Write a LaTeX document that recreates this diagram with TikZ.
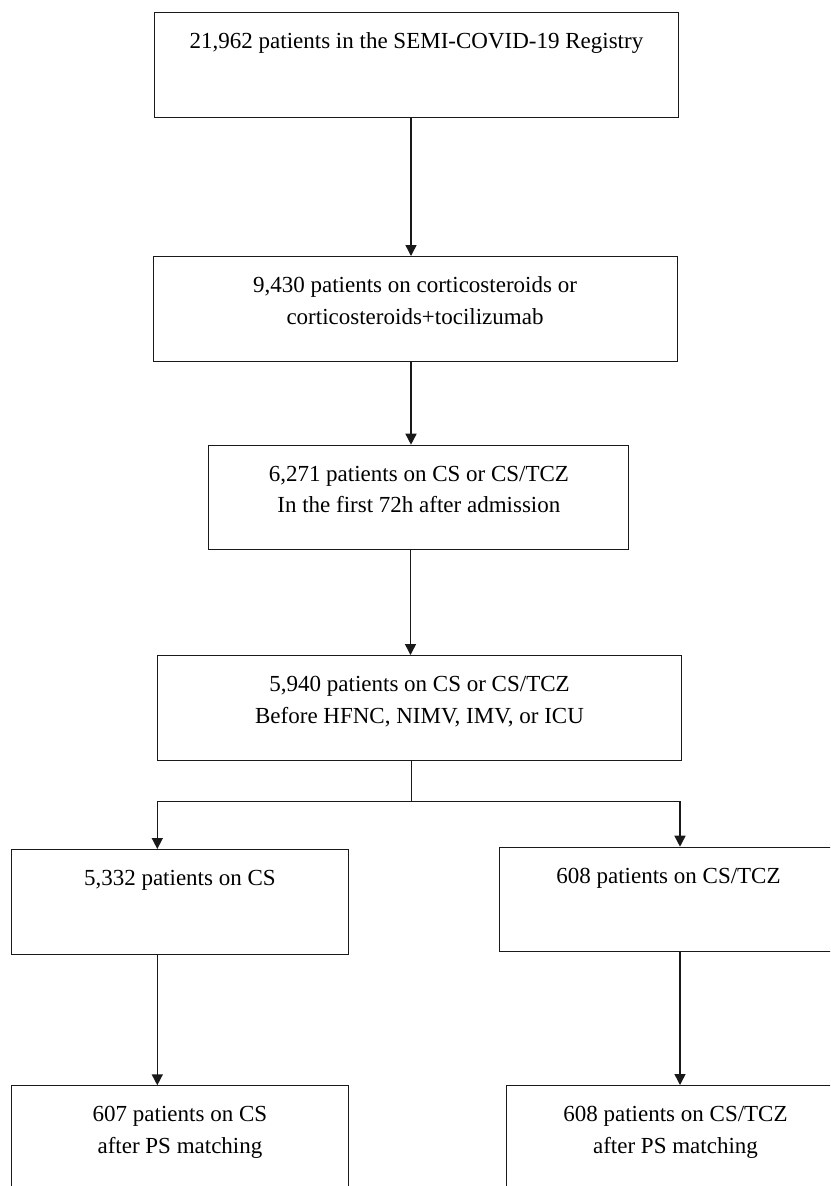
\documentclass[tikz,border=0pt]{standalone}
\usepackage{fontspec}
\setmainfont{Liberation Serif}
\usetikzlibrary{arrows.meta}
\newcommand{\bxt}[2]{\parbox[t][104.5pt][t]{#1}{\centering\vspace*{13.95pt}#2}}
\tikzset{
  box/.style={draw=black!90, line width=1pt, inner sep=0pt, anchor=north west,
    font=\fontsize{23}{31.5}\selectfont},
  arr/.style={draw=black!90, line width=1.5pt, -{Triangle[length=11pt,width=11pt]}},
  ln/.style={draw=black!90, line width=1.3pt}
}
\begin{document}
\begin{tikzpicture}[x=1pt,y=-1pt]
\useasboundingbox (0,0) rectangle (830,1186);
\clip (0,0) rectangle (830,1186);
\fill[white] (0,0) rectangle (830,1186);
\node[box] (b1) at (154,12.3) {\bxt{524pt}{\strut 21,962 patients in the SEMI-COVID-19 Registry}};
\node[box] (b2) at (152.5,256) {\bxt{524pt}{\strut 9,430 patients on corticosteroids or\\\strut corticosteroids+tocilizumab}};
\node[box] (b3) at (208.4,444.7) {\bxt{420pt}{\strut 6,271 patients on CS or CS/TCZ\\\strut In the first 72h after admission}};
\node[box] (b4) at (157.3,655) {\bxt{523.5pt}{\strut 5,940 patients on CS or CS/TCZ\\\strut Before HFNC, NIMV, IMV, or ICU}};
\node[box] (b5) at (10.6,849) {\bxt{337.5pt}{\strut 5,332 patients on CS}};
\node[box] (b6) at (499,846.7) {\bxt{338pt}{\strut 608 patients on CS/TCZ}};
\node[box] (b7) at (10.7,1085.3) {\bxt{337.5pt}{\strut 607 patients on CS\\\strut after PS matching}};
\node[box] (b8) at (506,1085) {\bxt{338pt}{\strut 608 patients on CS/TCZ\\\strut after PS matching}};
\coordinate (xa) at (411,0);
\coordinate (xb) at (410.5,0);
\coordinate (sm) at (411.7,801.7);
\coordinate (sl) at (157.3,801.7);
\coordinate (sr) at (680,801.7);
\draw[arr] (xa |- b1.south) -- (xa |- b2.north);
\draw[arr] (xa |- b2.south) -- (xa |- b3.north);
\draw[arr] (xb |- b3.south) -- (xb |- b4.north);
\draw[ln] (sm |- b4.south) -- (sm);
\draw[arr] (sm) -- (sl) -- (sl |- b5.north);
\draw[arr] (sm) -- (sr) -- (sr |- b6.north);
\draw[arr] (sl |- b5.south) -- (sl |- b7.north);
\draw[arr] (sr |- b6.south) -- (sr |- b8.north);
\end{tikzpicture}
\end{document}
